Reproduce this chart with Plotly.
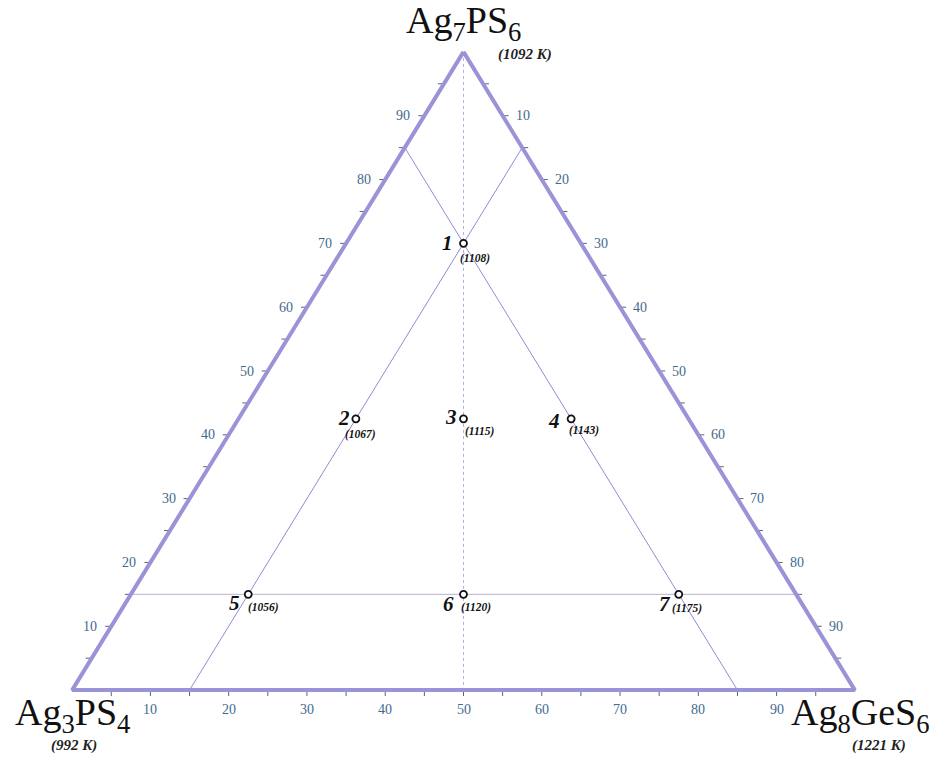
import plotly.graph_objects as go

# Ag3PS4 - Ag7PS6 - Ag8GeS6 concentration triangle (mol. %)
samples = ["1", "2", "3", "4", "5", "6", "7"]
ag7ps6 = [70, 42.5, 42.5, 42.5, 15, 15, 15]
ag3ps4 = [15, 42.5, 28.75, 15, 70, 42.5, 15]
ag8ges6 = [15, 15, 28.75, 42.5, 15, 42.5, 70]
melt_k = [1108, 1067, 1115, 1143, 1056, 1120, 1175]

vertex_names = ["Ag<sub>7</sub>PS<sub>6</sub>", "Ag<sub>3</sub>PS<sub>4</sub>", "Ag<sub>8</sub>GeS<sub>6</sub>"]
vertex_melt_k = [1092, 992, 1221]

tick_values = [10, 20, 30, 40, 50, 60, 70, 80, 90]
minor_tick_values = [5, 15, 25, 35, 45, 55, 65, 75, 85, 95]

# sections: lines of constant 15 % of each component, and the Ag3PS4 = Ag8GeS6 isopleth
section_a = [(15, 85, 0), (15, 0, 85)]
section_b = [(0, 15, 85), (85, 15, 0)]
section_c = [(0, 85, 15), (85, 0, 15)]
isopleth = [(100, 0, 0), (0, 50, 50)]

W, H = 936, 760
X0, X1, Y0, Y1 = 72, 855, 690, 52   # pixel frame of the triangle
PAD = 5
sx = (X1 - X0) / 100.0
sy = (Y0 - Y1) / 100.0

EDGE = "#9a93d8"
THIN = "#918bd4"
TICKC = "#3f6a8e"
SERIF = "Liberation Serif, Times New Roman, serif"


def to_xy(a, b, c):
    """Barycentric (Ag7PS6, Ag3PS4, Ag8GeS6) -> cartesian percent coords."""
    s = a + b + c
    a, c = 100.0 * a / s, 100.0 * c / s
    return c + a / 2.0, a


def seg(points):
    xs, ys = zip(*[to_xy(*p) for p in points])
    return list(xs), list(ys)


fig = go.Figure()

# interior sections
for pts, color, width, dash in [
    (section_a, "#c3c2d6", 1.3, "solid"),
    (section_b, THIN, 1.0, "solid"),
    (section_c, THIN, 1.0, "solid"),
    (isopleth, "#b3aee6", 1.0, "3px,3px"),
]:
    xs, ys = seg(pts)
    fig.add_trace(go.Scatter(x=xs, y=ys, mode="lines", hoverinfo="skip",
                             line=dict(color=color, width=width, dash=dash),
                             showlegend=False))

# tick marks on the three edges
tx, ty = [], []
for t in tick_values + minor_tick_values:
    # left edge (Ag7PS6 content)
    x, y = to_xy(t, 100 - t, 0)
    tx += [x, x - 6 / sx, None]
    ty += [y, y, None]
    # right edge (Ag8GeS6 content)
    x, y = to_xy(100 - t, 0, t)
    tx += [x, x + 6 / sx, None]
    ty += [y, y, None]
    # bottom edge (Ag8GeS6 content)
    x, y = to_xy(0, 100 - t, t)
    tx += [x, x, None]
    ty += [y, y - 6 / sy, None]
fig.add_trace(go.Scatter(x=tx, y=ty, mode="lines", hoverinfo="skip",
                         line=dict(color="#5a6472", width=1), showlegend=False))

# triangle outline
xs, ys = seg([(100, 0, 0), (0, 0, 100), (0, 100, 0), (100, 0, 0)])
fig.add_trace(go.Scatter(x=xs, y=ys, mode="lines", hoverinfo="skip",
                         line=dict(color=EDGE, width=4), showlegend=False))

# alloy compositions
px, py = zip(*[to_xy(a, b, c) for a, b, c in zip(ag7ps6, ag3ps4, ag8ges6)])
fig.add_trace(go.Scatter(x=px, y=py, mode="markers", cliponaxis=False,
                         marker=dict(size=7, color="white",
                                     line=dict(color="#111111", width=1.8)),
                         showlegend=False))

ann = []
# sample numbers and melting temperatures (pixel offsets of the labels)
num_off = [(-16, 0), (-12, 1), (-13, 2), (-17, -2), (-14, -9), (-15, -10), (-14, -10)]
temp_off = [(11, -15), (5, -16), (16, -13), (13, -12), (15, -13), (12, -13), (8, -14)]
for s, x, y, t, no, to in zip(samples, px, py, melt_k, num_off, temp_off):
    ann.append(dict(x=x, y=y, text=f"<b><i>{s}</i></b>", showarrow=False,
                    xshift=no[0], yshift=no[1],
                    font=dict(family=SERIF, size=21, color="#111111")))
    ann.append(dict(x=x, y=y, text=f"<b><i>({t})</i></b>", showarrow=False,
                    xshift=to[0], yshift=to[1],
                    font=dict(family=SERIF, size=11.5, color="#111111")))

# tick labels
for t in tick_values:
    x, y = to_xy(t, 100 - t, 0)
    ann.append(dict(x=x, y=y, text=str(t), showarrow=False, xshift=-21,
                    font=dict(family=SERIF, size=14, color=TICKC)))
    x, y = to_xy(100 - t, 0, t)
    ann.append(dict(x=x, y=y, text=str(t), showarrow=False, xshift=20,
                    font=dict(family=SERIF, size=14, color=TICKC)))
    x, y = to_xy(0, 100 - t, t)
    ann.append(dict(x=x, y=y, text=str(t), showarrow=False, yshift=-19,
                    font=dict(family=SERIF, size=14, color=TICKC)))

# vertex compounds with their melting points
vx = [to_xy(100, 0, 0), to_xy(0, 100, 0), to_xy(0, 0, 100)]
name_off = [(0, 29), (0, -25), (6, -25)]
temp_v_off = [(61, -3), (2, -55), (24, -55)]
for (x, y), name, tk, no, to in zip(vx, vertex_names, vertex_melt_k, name_off, temp_v_off):
    ann.append(dict(x=x, y=y, text=name, showarrow=False,
                    xshift=no[0], yshift=no[1],
                    font=dict(family=SERIF, size=38, color="#111111")))
    ann.append(dict(x=x, y=y, text=f"<b><i>({tk} K)</i></b>", showarrow=False,
                    xshift=to[0], yshift=to[1],
                    font=dict(family=SERIF, size=15, color="#222222")))

fig.update_layout(
    width=W, height=H, autosize=False,
    margin=dict(l=X0 - PAD * sx, r=W - X1 - PAD * sx,
                t=Y1 - PAD * sy, b=H - Y0 - PAD * sy, pad=0),
    paper_bgcolor="white", plot_bgcolor="white",
    xaxis=dict(range=[-PAD, 100 + PAD], visible=False, fixedrange=True),
    yaxis=dict(range=[-PAD, 100 + PAD], visible=False, fixedrange=True),
    annotations=ann,
)

fig.write_html("out.html")
